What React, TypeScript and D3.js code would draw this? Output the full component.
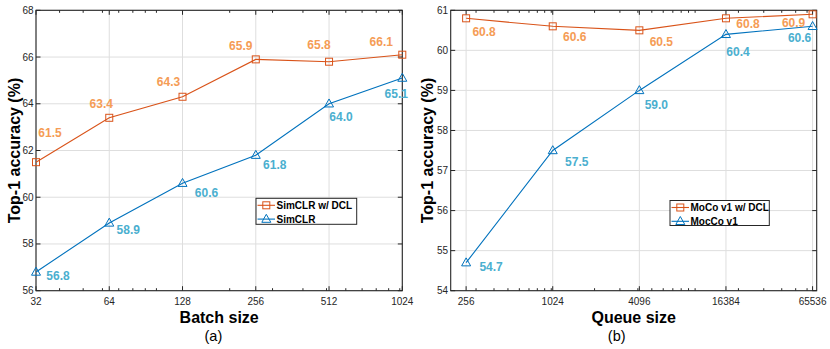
import React from "react";
import * as d3 from "d3";

// ---- Data ----
const batchSizes = [32, 64, 128, 256, 512, 1024];
const simclrDCL = [61.5, 63.4, 64.3, 65.9, 65.8, 66.1];
const simclr = [56.8, 58.9, 60.6, 61.8, 64.0, 65.1];
const batchTicks = [32, 64, 128, 256, 512, 1024];
const accTicksA = [56, 58, 60, 62, 64, 66, 68];

const queueSizes = [256, 1024, 4096, 16384, 65536];
const mocoDCL = [60.8, 60.6, 60.5, 60.8, 60.9];
const moco = [54.7, 57.5, 59.0, 60.4, 60.6];
const queueTicks = [256, 1024, 4096, 16384, 65536];
const accTicksB = [54, 55, 56, 57, 58, 59, 60, 61];

// label offsets (layout)
const offA1 = [[14, -29], [-8, -14], [-14, -15], [-15, -14], [-10, -17], [-21, -13]];
const offA2 = [[22, 4], [19, 7], [24, 10], [19, 10], [12, 13], [-6, 16]];
const offB1 = [[18, 13], [22, 10], [22, 11], [22, 5], [-19, 8]];
const offB2 = [[25, 4], [24, 11], [17, 14], [12, 17], [-13, 11]];

const ORANGE = "#D95319";
const BLUE = "#0072BD";
const ORANGE_LBL = "#F59C55";
const BLUE_LBL = "#4BAFCF";
const AX = "#262626";
const GRID = "#dedede";
const FONT = "'Liberation Sans', Arial, Helvetica, sans-serif";

function minorLogTicks(lo: number, hi: number, majors: number[]) {
  const out: number[] = [];
  for (let p = Math.floor(Math.log10(lo)); p <= Math.ceil(Math.log10(hi)); p++) {
    for (let k = 1; k <= 9; k++) {
      const v = k * Math.pow(10, p);
      if (v > lo && v < hi && !majors.includes(v)) out.push(v);
    }
  }
  return out;
}

function Square({ x, y, c }: { x: number; y: number; c: string }) {
  const s = 7;
  return <rect x={x - s / 2} y={y - s / 2} width={s} height={s} fill="none" stroke={c} strokeWidth={1} />;
}
function Tri({ x, y, c }: { x: number; y: number; c: string }) {
  const w = 9, h = 8;
  return (
    <path
      d={`M${x},${y - h * 0.6}L${x + w / 2},${y + h * 0.4}L${x - w / 2},${y + h * 0.4}Z`}
      fill="none"
      stroke={c}
      strokeWidth={1}
    />
  );
}

type PanelProps = {
  xs: number[];
  s1: number[];
  s2: number[];
  xDomain: [number, number];
  yDomain: [number, number];
  xRange: [number, number];
  yRange: [number, number];
  xTicks: number[];
  yTicks: number[];
  off1: number[][];
  off2: number[][];
  legend: string[];
  legendBox: [number, number, number, number];
  xTitle: string;
  sub: string;
  subX: number;
  yTitleX: number;
  base: number;
};

function Panel(p: PanelProps) {
  const x = d3.scaleLog().base(p.base).domain(p.xDomain).range(p.xRange);
  const y = d3.scaleLinear().domain(p.yDomain).range(p.yRange);
  const [x0, x1] = p.xRange;
  const [yb, yt] = p.yRange;
  const line = d3
    .line<number>()
    .x((_, i) => x(p.xs[i]))
    .y((d) => y(d));
  const minors = minorLogTicks(p.xDomain[0], p.xDomain[1], p.xTicks);
  const [lx, ly, lw, lh] = p.legendBox;
  const cx = (x0 + x1) / 2;
  return (
    <g fontFamily={FONT}>
      {/* grid */}
      {p.xTicks.map((t) => (
        <line key={"gx" + t} x1={x(t)} x2={x(t)} y1={yt} y2={yb} stroke={GRID} strokeWidth={1} />
      ))}
      {p.yTicks.map((t) => (
        <line key={"gy" + t} x1={x0} x2={x1} y1={y(t)} y2={y(t)} stroke={GRID} strokeWidth={1} />
      ))}
      {/* ticks */}
      {p.xTicks.map((t) => (
        <g key={"tx" + t}>
          <line x1={x(t)} x2={x(t)} y1={yb} y2={yb - 4.5} stroke={AX} />
          <line x1={x(t)} x2={x(t)} y1={yt} y2={yt + 4.5} stroke={AX} />
          <text x={x(t)} y={305} textAnchor="middle" fontSize={10} fill={AX}>
            {t}
          </text>
        </g>
      ))}
      {minors.map((t) => (
        <g key={"mx" + t}>
          <line x1={x(t)} x2={x(t)} y1={yb} y2={yb - 2.5} stroke={AX} />
          <line x1={x(t)} x2={x(t)} y1={yt} y2={yt + 2.5} stroke={AX} />
        </g>
      ))}
      {p.yTicks.map((t) => (
        <g key={"ty" + t}>
          <line x1={x0} x2={x0 + 4.5} y1={y(t)} y2={y(t)} stroke={AX} />
          <line x1={x1} x2={x1 - 4.5} y1={y(t)} y2={y(t)} stroke={AX} />
          <text x={x0 - 2.5} y={y(t)} dy="0.35em" textAnchor="end" fontSize={10} fill={AX}>
            {t}
          </text>
        </g>
      ))}
      {/* box */}
      <rect x={x0} y={yt} width={x1 - x0} height={yb - yt} fill="none" stroke={AX} strokeWidth={1.1} />
      {/* lines */}
      <path d={line(p.s1) || ""} fill="none" stroke={ORANGE} strokeWidth={1.1} />
      <path d={line(p.s2) || ""} fill="none" stroke={BLUE} strokeWidth={1.1} />
      {p.s1.map((v, i) => (
        <Square key={"m1" + i} x={x(p.xs[i])} y={y(v)} c={ORANGE} />
      ))}
      {p.s2.map((v, i) => (
        <Tri key={"m2" + i} x={x(p.xs[i])} y={y(v)} c={BLUE} />
      ))}
      {p.s1.map((v, i) => (
        <text
          key={"l1" + i}
          x={x(p.xs[i]) + p.off1[i][0]}
          y={y(v) + p.off1[i][1]}
          dy="0.35em"
          textAnchor="middle"
          fontSize={12}
          fontWeight="bold"
          fill={ORANGE_LBL}
        >
          {v.toFixed(1)}
        </text>
      ))}
      {p.s2.map((v, i) => (
        <text
          key={"l2" + i}
          x={x(p.xs[i]) + p.off2[i][0]}
          y={y(v) + p.off2[i][1]}
          dy="0.35em"
          textAnchor="middle"
          fontSize={12}
          fontWeight="bold"
          fill={BLUE_LBL}
        >
          {v.toFixed(1)}
        </text>
      ))}
      {/* legend */}
      <rect x={lx} y={ly} width={lw} height={lh} fill="#fff" stroke={AX} strokeWidth={1} />
      {[0, 1].map((r) => {
        const ry = ly + 7 + r * 13.8;
        const c = r === 0 ? ORANGE : BLUE;
        return (
          <g key={"lg" + r}>
            <line x1={lx + 1.5} x2={lx + 19} y1={ry} y2={ry} stroke={c} strokeWidth={1.1} />
            {r === 0 ? <Square x={lx + 10.3} y={ry} c={c} /> : <Tri x={lx + 10.3} y={ry} c={c} />}
            <text x={lx + 20.5} y={ry} dy="0.35em" fontSize={10} fontWeight="bold" fill="#000">
              {p.legend[r]}
            </text>
          </g>
        );
      })}
      {/* titles */}
      <text x={cx} y={323} textAnchor="middle" fontSize={16} fontWeight="bold" fill="#000">
        {p.xTitle}
      </text>
      <text x={p.subX} y={340.5} textAnchor="middle" fontSize={14.5} fill="#000">
        {p.sub}
      </text>
      <text
        transform={`translate(${p.yTitleX},${(yt + yb) / 2}) rotate(-90)`}
        textAnchor="middle"
        fontSize={16}
        fontWeight="bold"
        fill="#000"
      >
        Top-1 accuracy (%)
      </text>
    </g>
  );
}

export default function App() {
  return (
    <svg
      width={830}
      height={349}
      style={{ position: "absolute", left: 0, top: 0, background: "#fff" }}
    >
      <rect width={830} height={349} fill="#fff" />
      <Panel
        xs={batchSizes}
        s1={simclrDCL}
        s2={simclr}
        xDomain={[32, 1024]}
        yDomain={[56, 68]}
        xRange={[36, 402.3]}
        yRange={[290.7, 10.3]}
        xTicks={batchTicks}
        yTicks={accTicksA}
        off1={offA1}
        off2={offA2}
        legend={["SimCLR w/ DCL", "SimCLR"]}
        legendBox={[256, 198.3, 100.7, 26]}
        xTitle="Batch size"
        sub="(a)"
        subX={213.4}
        yTitleX={19.5}
        base={2}
      />
      <Panel
        xs={queueSizes}
        s1={mocoDCL}
        s2={moco}
        xDomain={[200, 70000]}
        yDomain={[54, 61]}
        xRange={[450.7, 816.7]}
        yRange={[290.7, 10.3]}
        xTicks={queueTicks}
        yTicks={accTicksB}
        off1={offB1}
        off2={offB2}
        legend={["MoCo v1 w/ DCL", "MocCo v1"]}
        legendBox={[670, 200.5, 99.3, 25]}
        xTitle="Queue size"
        sub="(b)"
        subX={616.7}
        yTitleX={433}
        base={10}
      />
    </svg>
  );
}
